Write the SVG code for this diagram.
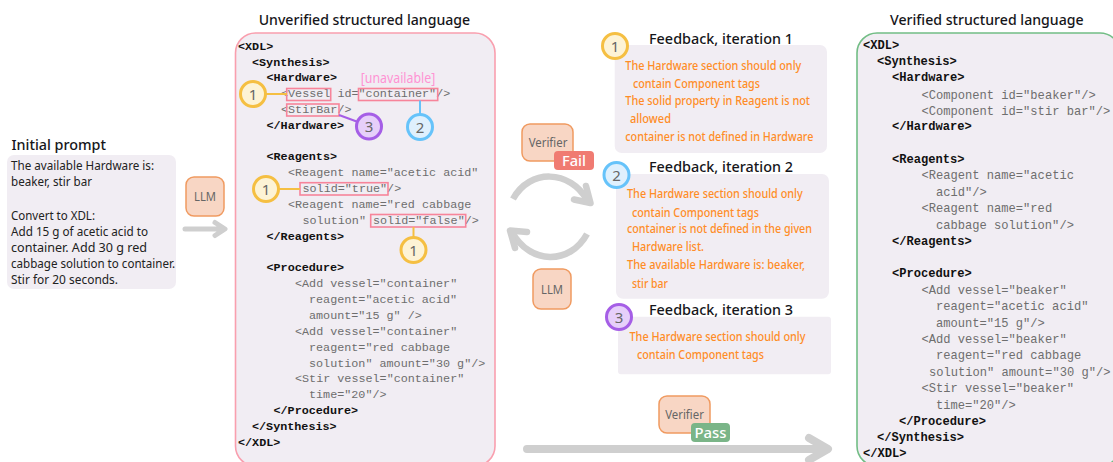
<svg xmlns="http://www.w3.org/2000/svg" width="1113" height="462" viewBox="0 0 1113 462">
<style>
text{white-space:pre}
.t{font:500 14.5px "Noto Sans",sans-serif;fill:#16161a}
.p{font:12px "Noto Sans",sans-serif;fill:#222}
.o{font:500 12px "Noto Sans",sans-serif;fill:#ff8c26}
.b{font:bold 11.75px "Liberation Mono",monospace;fill:#111}
.g{font:11.75px "Liberation Mono",monospace;fill:#6e6e6e}
.rb .b{font-size:12.1px}
.rb .g{font-size:12.1px}
.box{fill:#f1edf3}
.agent{fill:#f8d6c4;stroke:#f09a60;stroke-width:1.5}
.agt{font:12px "Noto Sans",sans-serif;fill:#666;text-anchor:middle}
.bad{font:500 15px "Noto Sans",sans-serif;fill:#fff;text-anchor:middle}
.hl{fill:none;stroke:#f7849a;stroke-width:1.6}
.n{font:15px "Noto Sans",sans-serif;fill:#666;text-anchor:middle}
.c1{fill:#fdf3d5;stroke:#f5bf42;stroke-width:3}
.c2{fill:#dff0fd;stroke:#66c3fa;stroke-width:3}
.c3{fill:#e6cffa;stroke:#a55ee6;stroke-width:3}
.arr{fill:none;stroke:#cfcfcf;stroke-linejoin:round}
</style>

<g id="initial-prompt">
<text class="t" x="11.5" y="150" textLength="94.5" lengthAdjust="spacingAndGlyphs">Initial prompt</text>
<rect class="box" x="7" y="155" width="169" height="134" rx="7"/>
<text class="p" x="11" y="170" textLength="143" lengthAdjust="spacingAndGlyphs">The available Hardware is:</text>
<text class="p" x="11" y="186" textLength="81" lengthAdjust="spacingAndGlyphs">beaker, stir bar</text>
<text class="p" x="11" y="220" textLength="84" lengthAdjust="spacingAndGlyphs">Convert to XDL:</text>
<text class="p" x="11" y="236" textLength="137" lengthAdjust="spacingAndGlyphs">Add 15 g of acetic acid to</text>
<text class="p" x="11" y="252" textLength="136" lengthAdjust="spacingAndGlyphs">container. Add 30 g red</text>
<text class="p" x="11" y="268" textLength="164" lengthAdjust="spacingAndGlyphs">cabbage solution to container.</text>
<text class="p" x="11" y="284" textLength="107" lengthAdjust="spacingAndGlyphs">Stir for 20 seconds.</text>
</g>

<g id="llm-1">
<rect class="agent" x="186" y="177" width="38" height="39" rx="8"/>
<text class="agt" x="205" y="201" textLength="22" lengthAdjust="spacingAndGlyphs">LLM</text>
</g>

<g id="unverified">
<text class="t" x="258.7" y="25" textLength="211.5" lengthAdjust="spacingAndGlyphs">Unverified structured language</text>
<rect class="box" x="235.5" y="33" width="259.5" height="433" rx="20" stroke="#f99fae" stroke-width="1.6"/>
<text class="b" x="238" y="50">&lt;XDL&gt;</text>
<text class="b" x="252" y="66">&lt;Synthesis&gt;</text>
<text class="b" x="266.5" y="81">&lt;Hardware&gt;</text>
<text class="g" x="281" y="97">&lt;Vessel id="container"/&gt;</text>
<text class="g" x="281" y="113">&lt;StirBar/&gt;</text>
<text class="b" x="266.5" y="129">&lt;/Hardware&gt;</text>
<text x="360.7" y="83" style="font:14.5px 'Noto Sans',sans-serif;fill:#ff93d3" textLength="74.6" lengthAdjust="spacingAndGlyphs">[unavailable]</text>
<text class="b" x="266.5" y="160">&lt;Reagents&gt;</text>
<text class="g" x="288" y="176">&lt;Reagent name="acetic acid"</text>
<text class="g" x="302.5" y="192">solid="true"/&gt;</text>
<text class="g" x="288" y="208">&lt;Reagent name="red cabbage</text>
<text class="g" x="302.5" y="224">solution" solid="false"/&gt;</text>
<text class="b" x="266.5" y="240">&lt;/Reagents&gt;</text>
<text class="b" x="266.5" y="271">&lt;Procedure&gt;</text>
<text class="g" x="295" y="287">&lt;Add vessel="container"</text>
<text class="g" x="309" y="303">reagent="acetic acid"</text>
<text class="g" x="309" y="319">amount="15 g" /&gt;</text>
<text class="g" x="295" y="335">&lt;Add vessel="container"</text>
<text class="g" x="309" y="351">reagent="red cabbage</text>
<text class="g" x="309" y="367">solution" amount="30 g"/&gt;</text>
<text class="g" x="295" y="382">&lt;Stir vessel="container"</text>
<text class="g" x="309" y="398">time="20"/&gt;</text>
<text class="b" x="273.5" y="414">&lt;/Procedure&gt;</text>
<text class="b" x="252" y="430">&lt;/Synthesis&gt;</text>
<text class="b" x="238" y="446">&lt;/XDL&gt;</text>
<rect class="hl" x="286.7" y="88.5" width="44" height="12"/>
<rect class="hl" x="358.5" y="88.5" width="79.2" height="12"/>
<rect class="hl" x="286.7" y="104" width="52.3" height="12"/>
<rect class="hl" x="300" y="182.7" width="88" height="12.3"/>
<rect class="hl" x="370.7" y="214.5" width="95" height="12.5"/>
</g>

<g id="connectors">
<line x1="266" y1="94" x2="287" y2="94" stroke="#f5bf42" stroke-width="2"/>
<line x1="420" y1="100.5" x2="420" y2="115" stroke="#66c3fa" stroke-width="2"/>
<line x1="339" y1="115" x2="358" y2="122" stroke="#a55ee6" stroke-width="2"/>
<line x1="279" y1="189" x2="300" y2="189" stroke="#f5bf42" stroke-width="2"/>
<line x1="413.5" y1="227" x2="413.5" y2="238" stroke="#f5bf42" stroke-width="2"/>
<path class="arr" stroke-width="5" stroke-linecap="round" d="M185 229H224M215 222.5L225 229L215 235.500"/>
<path class="arr" stroke-width="6.500" d="M513 199C530 168 570 170 587 200"/>
<path class="arr" stroke-width="6.500" stroke-linecap="round" d="M586 186L590.500 203L574 199.500"/>
<path class="arr" stroke-width="6.500" d="M587 234C570 265 530 265 512 232"/>
<path class="arr" stroke-width="6.500" stroke-linecap="round" d="M515 248L510 230.500L527 232"/>
<path class="arr" stroke-width="8" stroke-linecap="round" d="M527 449H827M809 438L828 449L809 460"/>
</g>

<g id="badge-1a"><circle class="c1" cx="253" cy="94" r="12.500"/><text class="n" x="253" y="99.500">1</text></g>
<g id="badge-3a"><circle class="c3" cx="369" cy="126.500" r="12.500"/><text class="n" x="369" y="132">3</text></g>
<g id="badge-2a"><circle class="c2" cx="420" cy="127" r="12.500"/><text class="n" x="420" y="132.500">2</text></g>
<g id="badge-1b"><circle class="c1" cx="266" cy="189" r="12.500"/><text class="n" x="266" y="194.500">1</text></g>
<g id="badge-1c"><circle class="c1" cx="413.500" cy="250" r="12.500"/><text class="n" x="413.500" y="255.500">1</text></g>

<g id="verifier-fail">
<rect class="agent" x="522" y="124" width="51" height="37" rx="8"/>
<text class="agt" x="548" y="147" textLength="38.700" lengthAdjust="spacingAndGlyphs">Verifier</text>
<rect x="554" y="151" width="40" height="19" rx="4" fill="#f07b72"/>
<text class="bad" x="574" y="166" textLength="24" lengthAdjust="spacingAndGlyphs">Fail</text>
</g>

<g id="llm-2">
<rect class="agent" x="533" y="269" width="38" height="40" rx="8"/>
<text class="agt" x="552" y="294" textLength="22" lengthAdjust="spacingAndGlyphs">LLM</text>
</g>

<g id="feedback-1">
<rect class="box" x="614.700" y="45" width="212.300" height="108" rx="7"/>
<text class="t" x="649" y="43.500" textLength="144" lengthAdjust="spacingAndGlyphs">Feedback, iteration 1</text>
<circle class="c1" cx="615" cy="46" r="12.500"/><text class="n" x="615" y="51.500">1</text>
<text class="o" x="625.300" y="69.500" textLength="176" lengthAdjust="spacingAndGlyphs">The Hardware section should only</text>
<text class="o" x="633" y="87.500" textLength="127" lengthAdjust="spacingAndGlyphs">contain Component tags</text>
<text class="o" x="625.300" y="105" textLength="184.700" lengthAdjust="spacingAndGlyphs">The solid property in Reagent is not</text>
<text class="o" x="630" y="123" textLength="41" lengthAdjust="spacingAndGlyphs">allowed</text>
<text class="o" x="625.300" y="140.700" textLength="188" lengthAdjust="spacingAndGlyphs">container is not defined in Hardware</text>
</g>

<g id="feedback-2">
<rect class="box" x="616" y="174" width="213" height="124.700" rx="7"/>
<text class="t" x="649" y="172" textLength="144" lengthAdjust="spacingAndGlyphs">Feedback, iteration 2</text>
<circle class="c2" cx="616.500" cy="175" r="12.500"/><text class="n" x="616.500" y="180.500">2</text>
<text class="o" x="627" y="198" textLength="175.700" lengthAdjust="spacingAndGlyphs">The Hardware section should only</text>
<text class="o" x="632" y="216.500" textLength="127" lengthAdjust="spacingAndGlyphs">contain Component tags</text>
<text class="o" x="627" y="233" textLength="185" lengthAdjust="spacingAndGlyphs">container is not defined in the given</text>
<text class="o" x="632" y="251" textLength="72" lengthAdjust="spacingAndGlyphs">Hardware list.</text>
<text class="o" x="627" y="269" textLength="178" lengthAdjust="spacingAndGlyphs">The available Hardware is: beaker,</text>
<text class="o" x="632" y="287.500" textLength="36" lengthAdjust="spacingAndGlyphs">stir bar</text>
</g>

<g id="feedback-3">
<rect class="box" x="618" y="316.700" width="213" height="57.500" rx="3"/>
<text class="t" x="649" y="315" textLength="144" lengthAdjust="spacingAndGlyphs">Feedback, iteration 3</text>
<circle class="c3" cx="619" cy="317" r="12.500"/><text class="n" x="619" y="322.500">3</text>
<text class="o" x="629.500" y="340.700" textLength="176" lengthAdjust="spacingAndGlyphs">The Hardware section should only</text>
<text class="o" x="637" y="358.700" textLength="127" lengthAdjust="spacingAndGlyphs">contain Component tags</text>
</g>

<g id="verifier-pass">
<rect class="agent" x="659" y="396" width="51" height="37" rx="8"/>
<text class="agt" x="684.500" y="419" textLength="38.700" lengthAdjust="spacingAndGlyphs">Verifier</text>
<rect x="691" y="423" width="39" height="19" rx="4" fill="#7ab588"/>
<text class="bad" x="710.500" y="438" textLength="32" lengthAdjust="spacingAndGlyphs">Pass</text>
</g>

<g id="verified" class="rb">
<text class="t" x="890" y="25" textLength="193.700" lengthAdjust="spacingAndGlyphs">Verified structured language</text>
<rect class="box" x="857" y="33" width="263" height="433" rx="20" stroke="#72bd85" stroke-width="1.6"/>
<text class="b" x="863" y="49">&lt;XDL&gt;</text>
<text class="b" x="877" y="65">&lt;Synthesis&gt;</text>
<text class="b" x="892" y="81">&lt;Hardware&gt;</text>
<text class="g" x="921.500" y="99">&lt;Component id="beaker"/&gt;</text>
<text class="g" x="921.500" y="115">&lt;Component id="stir bar"/&gt;</text>
<text class="b" x="892" y="130">&lt;/Hardware&gt;</text>
<text class="b" x="892" y="163">&lt;Reagents&gt;</text>
<text class="g" x="921.500" y="179">&lt;Reagent name="acetic</text>
<text class="g" x="936" y="196">acid"/&gt;</text>
<text class="g" x="921.500" y="212">&lt;Reagent name="red</text>
<text class="g" x="936" y="229">cabbage solution"/&gt;</text>
<text class="b" x="892" y="245">&lt;/Reagents&gt;</text>
<text class="b" x="892" y="277">&lt;Procedure&gt;</text>
<text class="g" x="921.500" y="294">&lt;Add vessel="beaker"</text>
<text class="g" x="936" y="310">reagent="acetic acid"</text>
<text class="g" x="936" y="327">amount="15 g"/&gt;</text>
<text class="g" x="921.500" y="343">&lt;Add vessel="beaker"</text>
<text class="g" x="936" y="359">reagent="red cabbage</text>
<text class="g" x="929" y="376">solution" amount="30 g"/&gt;</text>
<text class="g" x="921.500" y="392">&lt;Stir vessel="beaker"</text>
<text class="g" x="936" y="409">time="20"/&gt;</text>
<text class="b" x="899" y="425">&lt;/Procedure&gt;</text>
<text class="b" x="877" y="441">&lt;/Synthesis&gt;</text>
<text class="b" x="863" y="457">&lt;/XDL&gt;</text>
</g>
</svg>
